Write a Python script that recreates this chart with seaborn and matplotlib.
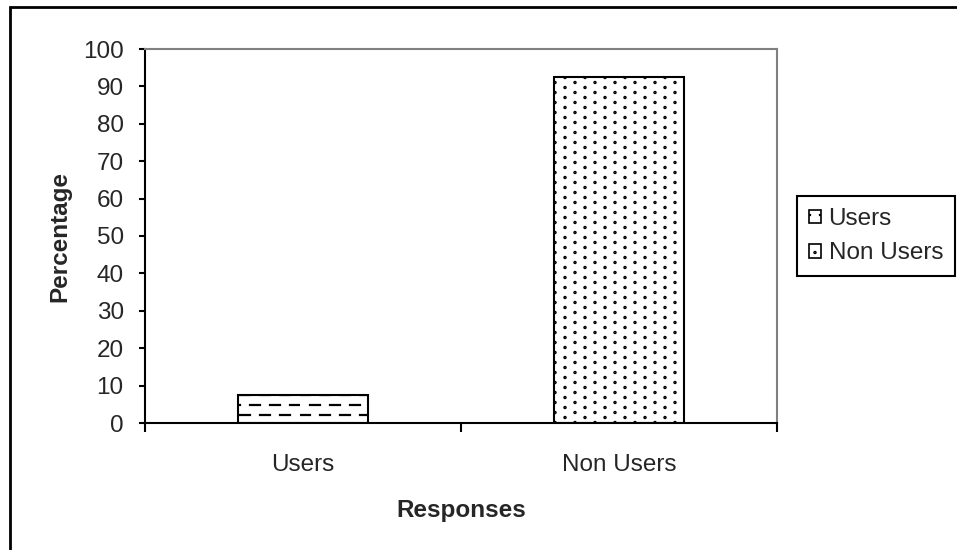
import numpy as np
import matplotlib
matplotlib.use("Agg")
import matplotlib.pyplot as plt
import matplotlib.hatch as mhatch
from matplotlib.path import Path
from matplotlib.patches import Rectangle, Patch
import seaborn as sns
import pandas as pd

# ---- data ----
categories = ["Users", "Non Users"]
percentages = [7.5, 92.5]
y_ticks = list(range(0, 101, 10))
bar_hatches = ["-", "."]


# ---- hatch fills: staggered short dashes for '-', staggered dot grid for '.' ----
class DashRows(mhatch.HatchPatternBase):
    rows = 10
    dashes = 5

    def __init__(self, hatch, density):
        self.on = hatch.count("-") > 0
        self.num_vertices = self.rows * self.dashes * 2 if self.on else 0

    def set_vertices_and_codes(self, vertices, codes):
        k = 0
        for r in range(self.rows):
            y = (r + 0.5) / self.rows
            shift = 0.1 if r % 2 else 0.0
            for d in range(self.dashes):
                x0 = d * 0.2 + shift
                vertices[k] = (x0, y)
                vertices[k + 1] = (x0 + 0.1, y)
                codes[k] = Path.MOVETO
                codes[k + 1] = Path.LINETO
                k += 2


class DotGrid(mhatch.HatchPatternBase):
    cols = 10
    rows = 10
    radius = 0.006
    sides = 8

    def __init__(self, hatch, density):
        self.on = hatch.count(".") > 0
        self.num_vertices = self.cols * self.rows * (self.sides + 1) if self.on else 0

    def set_vertices_and_codes(self, vertices, codes):
        ang = np.linspace(0, 2 * np.pi, self.sides, endpoint=False)
        ring = np.column_stack([np.cos(ang), np.sin(ang)]) * self.radius
        n = self.sides + 1
        k = 0
        for c in range(self.cols):
            x = (c + 0.5) / self.cols
            off = 0.5 / self.rows if c % 2 else 0.0
            for r in range(self.rows):
                y = (r + 0.25) / self.rows + off
                vertices[k:k + self.sides] = ring + (x, y)
                vertices[k + self.sides] = (x, y)
                codes[k] = Path.MOVETO
                codes[k + 1:k + self.sides] = Path.LINETO
                codes[k + self.sides] = Path.CLOSEPOLY
                k += n


mhatch._hatch_types[:] = [
    t for t in mhatch._hatch_types
    if t not in (mhatch.HorizontalHatch, mhatch.SmallFilledCircles)
] + [DashRows, DotGrid]

# ---- style ----
sns.set_theme(style="white")
plt.rcParams["font.family"] = ["Liberation Sans", "DejaVu Sans"]
plt.rcParams["hatch.linewidth"] = 1.6
plt.rcParams["hatch.color"] = "black"
FS = 17.5

df = pd.DataFrame({"Responses": categories, "Percentage": percentages})

fig = plt.figure(figsize=(9.57, 5.5), dpi=100)
fig.patch.set_facecolor("white")
ax = fig.add_axes([145 / 957, 1 - 423 / 550, (777 - 145) / 957, (423 - 49) / 550])

sns.barplot(data=df, x="Responses", y="Percentage", hue="Responses",
            palette=["white", "white"], saturation=1, width=0.41,
            edgecolor="black", linewidth=1.5, legend=False, ax=ax)

for patch, h in zip(ax.patches, bar_hatches):
    patch.set_hatch(h)

ax.set_xlim(-0.5, 1.5)
ax.set_ylim(0, 100)
ax.set_yticks(y_ticks)
ax.set_yticklabels([str(v) for v in y_ticks], fontsize=FS)
ax.set_xticks([-0.5, 0.5, 1.5])
ax.set_xticklabels([])
ax.set_xticks([0, 1], minor=True)
ax.set_xticklabels(categories, minor=True, fontsize=FS)
ax.tick_params(axis="x", which="major", direction="out", length=6.5, width=1.5,
               color="black", bottom=True)
ax.tick_params(axis="x", which="minor", length=0, pad=22, bottom=True)
ax.tick_params(axis="y", direction="out", length=4.3, width=1.5, color="black",
               pad=11, left=True)
ax.set_xlabel("")
ax.set_ylabel("")

for side in ("top", "right"):
    ax.spines[side].set_color("#808080")
    ax.spines[side].set_linewidth(1.5)
for side in ("left", "bottom"):
    ax.spines[side].set_color("black")
    ax.spines[side].set_linewidth(1.5)

fig.text(60 / 957, 1 - 237 / 550, "Percentage", rotation=90, ha="center",
         va="center", fontsize=FS, fontweight="bold")
fig.text(461 / 957, 1 - 510 / 550, "Responses", ha="center", va="center",
         fontsize=FS, fontweight="bold")

handles = [Patch(facecolor="white", edgecolor="black", hatch=h, linewidth=1.2)
           for h in bar_hatches]
leg = ax.legend(handles, categories, loc="upper left",
                bbox_to_anchor=(797 / 957, 1 - 196 / 550),
                bbox_transform=fig.transFigure, frameon=True, fancybox=False,
                edgecolor="black", framealpha=1, borderaxespad=0,
                handlelength=0.5, handleheight=0.5, handletextpad=0.3,
                borderpad=0.5, labelspacing=0.5, fontsize=FS)
leg.get_frame().set_linewidth(1.5)

# outer chart border
fig.patches.append(Rectangle((10 / 957, -0.1), 2, 1 - 7 / 550 + 0.1,
                             transform=fig.transFigure, fill=False,
                             edgecolor="black", linewidth=2))

fig.savefig("out.png", dpi=100, facecolor="white")
